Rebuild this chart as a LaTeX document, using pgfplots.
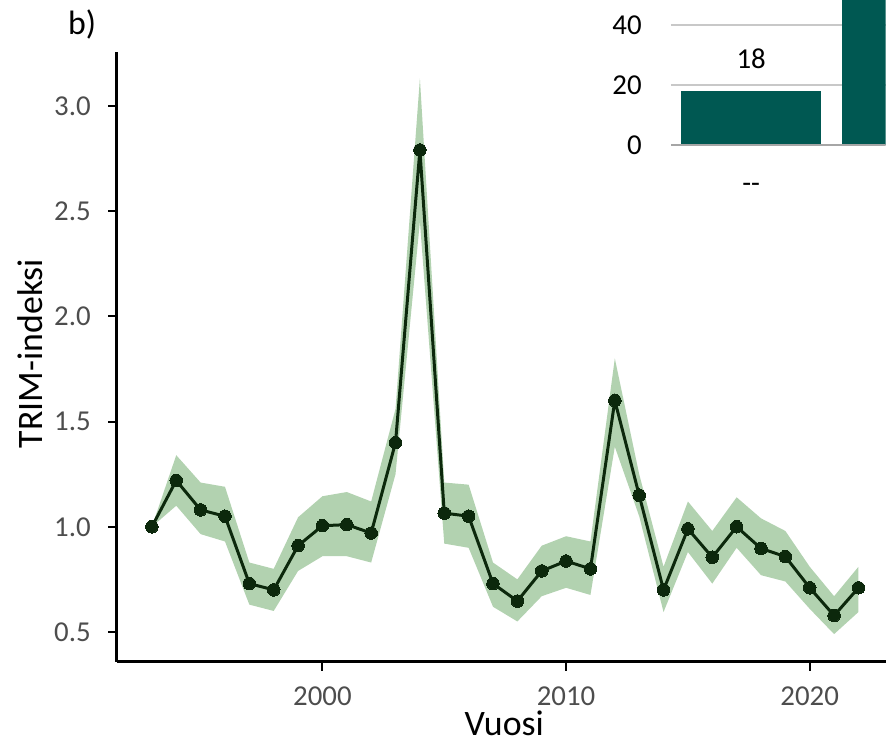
\documentclass[border=0pt]{standalone}
\usepackage{pgfplots}
\pgfplotsset{compat=1.18}
\usepackage{fontspec}
\setmainfont{Carlito}
\definecolor{band}{RGB}{178,210,176}
\definecolor{linec}{RGB}{12,40,12}
\definecolor{tealbar}{RGB}{0,88,82}
\definecolor{ticklab}{RGB}{77,77,77}
\definecolor{gridc}{RGB}{200,200,200}
\definecolor{zeroc}{RGB}{166,166,166}
\begin{document}
\begin{tikzpicture}
\path (0,0) rectangle (887bp,-745bp);
\begin{axis}[
  at={(117bp,-663bp)}, anchor=south west,
  scale only axis, width=770bp, height=611bp,
  xmin=1991.56, xmax=2023.11, ymin=0.358, ymax=3.256,
  axis x line*=bottom, axis y line*=left,
  axis line style={-, line width=3bp, black},
  xtick={2000,2010,2020}, ytick={0.5,1.0,1.5,2.0,2.5,3.0},
  xtick align=outside, ytick align=outside,
  major tick length=8bp,
  xtick style={line width=2bp, black},
  ytick style={line width=2bp, black},
  /pgf/number format/assume math mode=true,
  xticklabel style={/pgf/number format/1000 sep={}, anchor=north, inner sep=0pt, yshift=-17bp, font=\fontsize{29}{30}\selectfont, text=ticklab},
  yticklabel style={/pgf/number format/.cd, fixed, fixed zerofill, precision=1, /tikz/.cd, anchor=east, inner sep=0pt, xshift=-18bp, font=\fontsize{29}{30}\selectfont, text=ticklab},
  xlabel={Vuosi}, ylabel={TRIM-indeksi},
  every axis x label/.style={at={(axis description cs:0.504,-0.121)}, anchor=base, inner sep=0pt, font=\fontsize{36}{40}\selectfont},
  every axis y label/.style={at={(axis description cs:-0.0961,0.5057)}, rotate=90, anchor=base, inner sep=0pt, font=\fontsize{36}{40}\selectfont},
  clip=false,
]
% confidence band: upper bound 1993->2022, then lower bound 2022->1993
\addplot[fill=band, draw=none, forget plot] table[x=year, y=v] {
year v
1993 1.000
1994 1.340
1995 1.210
1996 1.190
1997 0.830
1998 0.800
1999 1.045
2000 1.145
2001 1.165
2002 1.120
2003 1.560
2004 3.130
2005 1.210
2006 1.200
2007 0.830
2008 0.750
2009 0.910
2010 0.955
2011 0.930
2012 1.800
2013 1.250
2014 0.810
2015 1.120
2016 0.980
2017 1.140
2018 1.040
2019 0.980
2020 0.810
2021 0.670
2022 0.810
2022 0.595
2021 0.490
2020 0.610
2019 0.740
2018 0.770
2017 0.900
2016 0.730
2015 0.880
2014 0.595
2013 1.050
2012 1.380
2011 0.676
2010 0.710
2009 0.670
2008 0.550
2007 0.620
2006 0.900
2005 0.920
2004 2.450
2003 1.250
2002 0.830
2001 0.860
2000 0.860
1999 0.790
1998 0.600
1997 0.630
1996 0.930
1995 0.965
1994 1.100
1993 1.000
} --cycle;
\addplot[linec, line width=3bp, mark=*, mark size=6.3bp, mark options={fill=linec, draw=linec, line width=0pt}] table[x=year, y=mean] {
year mean
1993 1.000
1994 1.220
1995 1.080
1996 1.050
1997 0.730
1998 0.700
1999 0.910
2000 1.005
2001 1.010
2002 0.970
2003 1.400
2004 2.790
2005 1.065
2006 1.050
2007 0.730
2008 0.647
2009 0.790
2010 0.837
2011 0.800
2012 1.600
2013 1.150
2014 0.700
2015 0.990
2016 0.855
2017 1.000
2018 0.897
2019 0.858
2020 0.710
2021 0.578
2022 0.710
};
% tick marks
\pgfplotsinvokeforeach{2000,2010,2020}{\draw[line width=2bp, black] (axis cs:#1,0.358) -- ([yshift=-9bp]axis cs:#1,0.358);}
\pgfplotsinvokeforeach{0.5,1.0,1.5,2.0,2.5,3.0}{\draw[line width=2bp, black] (axis cs:1991.56,#1) -- ([xshift=-9bp]axis cs:1991.56,#1);}
\end{axis}
\begin{axis}[
  at={(672bp,-148bp)}, anchor=south west,
  scale only axis, width=215bp, height=148bp,
  xmin=-0.5, xmax=0.8354, ymin=-1, ymax=48.33,
  axis x line*=bottom, axis y line*=left,
  axis line style={draw=none},
  ymajorgrids, grid style={gridc, line width=2bp},
  ytick={20,40}, extra y ticks={0}, extra y tick style={grid=none},
  xtick={0}, xticklabels={{-}{-}},
  major tick length=0pt,
  /pgf/number format/assume math mode=true,
  yticklabel style={anchor=east, inner sep=0pt, xshift=-29bp, font=\fontsize{29}{30}\selectfont, text=black},
  xticklabel style={anchor=center, inner sep=0pt, yshift=-40bp, font=\fontsize{29}{30}\selectfont, text=black},
  clip=true,
]
\addplot[ybar, bar width=140bp, fill=tealbar, draw=none, bar shift=0pt,
  nodes near coords, nodes near coords style={text=black, font=\fontsize{29}{30}\selectfont, anchor=center, inner sep=0pt, yshift=32bp}]
  coordinates {(0,18)};
\addplot[ybar, bar width=140bp, fill=tealbar, draw=none, bar shift=0pt] coordinates {(1,70)};
\draw[zeroc, line width=2.5bp] (axis cs:-0.5,0) -- (axis cs:0.8354,0);
\end{axis}
\node[anchor=base west, inner sep=0pt, font=\fontsize{34}{36}\selectfont] at (68bp,-35bp) {b)};
\end{tikzpicture}
\end{document}
